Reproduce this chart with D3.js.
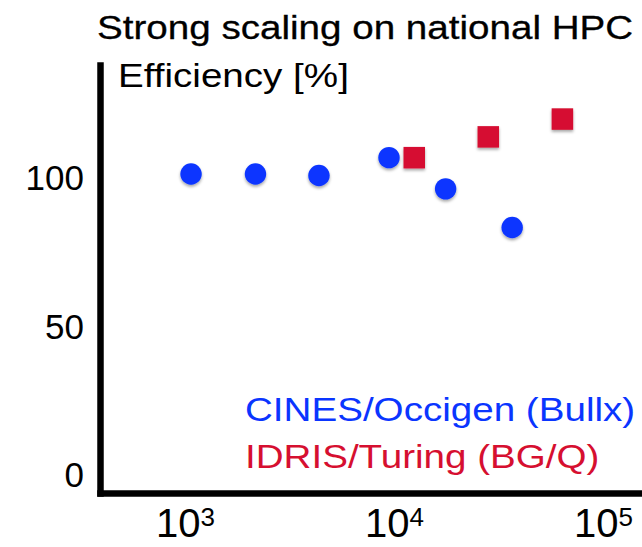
<!DOCTYPE html>
<html>
<head>
<meta charset="utf-8">
<script src="https://cdn.jsdelivr.net/npm/d3@7"></script>
<style>
  body { margin: 0; background: #fff; }
  svg { display: block; font-family: 'Liberation Sans', Arial, Helvetica, sans-serif; }
  .wide { transform-box: fill-box; transform: scaleX(1.135); }
</style>
</head>
<body>
<svg id="canvas" width="642" height="547"></svg>
<script>
// values
const cinesCores = [1180, 2400, 4830, 10450, 19500, 40600]
const cinesEff = [101, 101, 100.5, 106.5, 96, 83]
const idrisCores = [13800, 31200, 70600]
const idrisEff = [106.5, 113.5, 119.5]
const seriesNames = ['CINES/Occigen (Bullx)', 'IDRIS/Turing (BG/Q)']
const seriesColors = ['#0a35ff', '#d60f30']
const yTicks = [0, 50, 100]
const xTicks = [1e3, 1e4, 1e5]

let canvas = d3.select('#canvas')

let x = d3.scaleLog().domain([432.8, 175400]).range([100, 645])
let y = d3.scaleLinear().domain([-6.4, 137.7]).range([493, 65])

// soft shadow under the markers
let defs = canvas.append('defs')
defs.append('filter').attr('id', 'shadow')
    .attr('x', '-30%').attr('y', '-30%').attr('width', '160%').attr('height', '170%')
    .append('feDropShadow')
    .attr('dx', 0).attr('dy', 2).attr('stdDeviation', 1.4)
    .attr('flood-color', '#000').attr('flood-opacity', 0.35)

// title and axis label
canvas.append('text')
      .attr('class', 'wide')
      .style('transform-origin', 'left')
      .attr('x', 97).attr('y', 39)
      .attr('font-size', 34)
      .attr('fill', '#000')
      .attr('stroke', '#000').attr('stroke-width', 0.3)
      .text('Strong scaling on national HPC')

canvas.append('text')
      .attr('class', 'wide')
      .style('transform-origin', 'left')
      .attr('x', 118).attr('y', 87)
      .attr('font-size', 34)
      .attr('fill', '#000')
      .text('Efficiency [%]')

// axes
let yAxis = d3.axisLeft(y).tickValues(yTicks).tickSize(0).tickPadding(16)
let yG = canvas.append('g').attr('transform', 'translate(100,0)').call(yAxis)
yG.selectAll('text').attr('font-size', 35).attr('font-family', null).attr('fill', '#000').attr('dy', '0.36em')

let xAxis = d3.axisBottom(x).tickValues(xTicks).tickSize(0).tickPadding(16).tickFormat(() => '')
let xG = canvas.append('g').attr('transform', 'translate(0,493)').call(xAxis)
xG.selectAll('text')
  .attr('font-size', 40).attr('font-family', null).attr('fill', '#000')
  .attr('dx', 9)
  .each(function(d) {
      let t = d3.select(this)
      t.append('tspan').text('10')
      t.append('tspan').attr('font-size', 26).attr('dy', '-0.42em').text(Math.round(Math.log10(d)))
  })

canvas.selectAll('.domain')
      .attr('stroke', '#000')
      .attr('stroke-width', 6.5)
      .attr('stroke-linecap', 'square')

// CINES points
canvas.append('g').attr('filter', 'url(#shadow)')
      .selectAll('circle')
      .data(cinesCores)
      .enter()
      .append('circle')
      .attr('cx', (d) => x(d))
      .attr('cy', (d, i) => y(cinesEff[i]))
      .attr('r', 10.7)
      .attr('fill', seriesColors[0])

// IDRIS points
let sq = 21.5
canvas.append('g').attr('filter', 'url(#shadow)')
      .selectAll('rect')
      .data(idrisCores)
      .enter()
      .append('rect')
      .attr('x', (d) => x(d) - sq / 2)
      .attr('y', (d, i) => y(idrisEff[i]) - sq / 2)
      .attr('width', sq)
      .attr('height', sq)
      .attr('fill', seriesColors[1])

// legend
canvas.selectAll('.legend')
      .data(seriesNames)
      .enter()
      .append('text')
      .attr('class', 'legend wide')
      .style('transform-origin', 'left')
      .attr('x', 245)
      .attr('y', (d, i) => 421.5 + i * 46.8)
      .attr('font-size', 34)
      .attr('fill', (d, i) => seriesColors[i])
      .text((d) => d)
</script>
</body>
</html>
